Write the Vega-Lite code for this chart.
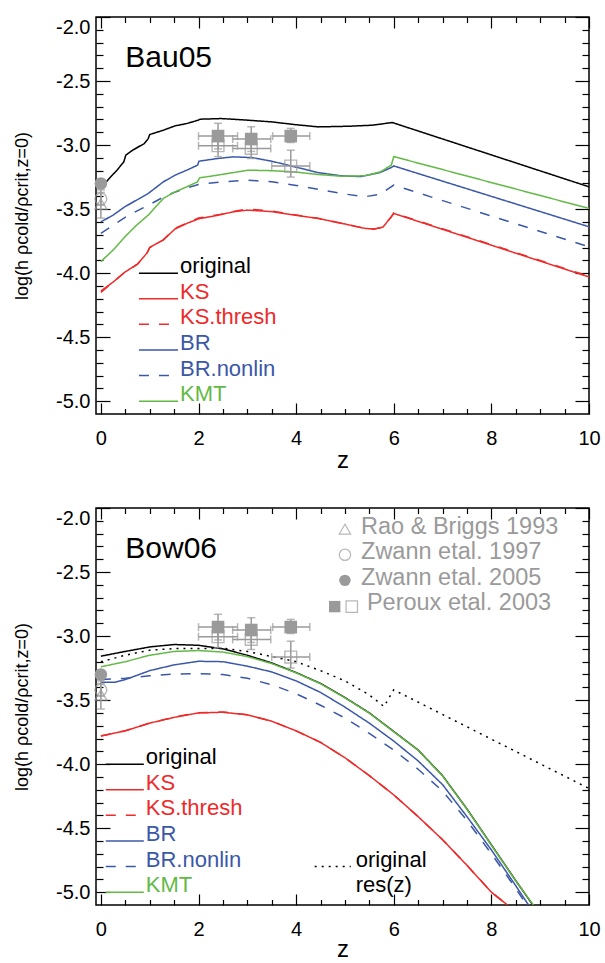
{
  "$schema": "https://vega.github.io/schema/vega-lite/v6.json",
  "padding": {"left": 12, "top": 15, "right": 0, "bottom": 0},
  "spacing": 32,
  "config": {
    "view": {"stroke": "black", "strokeWidth": 1.5},
    "font": "Liberation Sans",
    "axis": {
      "domain": false, "grid": false, "tickColor": "black", "tickWidth": 1.2,
      "labelColor": "black", "labelFont": "Liberation Sans", "labelFontSize": 20,
      "titleFont": "Liberation Sans", "titleFontWeight": "normal", "titleColor": "black",
      "labelOverlap": false
    },
    "text": {"font": "Liberation Sans"}
  },
  "datasets": {
    "curves": [
      {"p":"Bau05","s":"original","z":0,"v":-3.339},{"p":"Bau05","s":"original","z":0.17,"v":-3.261},{"p":"Bau05","s":"original","z":0.33,"v":-3.196},{"p":"Bau05","s":"original","z":0.47,"v":-3.131},{"p":"Bau05","s":"original","z":0.51,"v":-3.079},{"p":"Bau05","s":"original","z":0.65,"v":-3.04},{"p":"Bau05","s":"original","z":0.89,"v":-2.988},{"p":"Bau05","s":"original","z":0.97,"v":-2.95},{"p":"Bau05","s":"original","z":1.0,"v":-2.918},{"p":"Bau05","s":"original","z":1.28,"v":-2.884},{"p":"Bau05","s":"original","z":1.52,"v":-2.85},{"p":"Bau05","s":"original","z":1.76,"v":-2.832},{"p":"Bau05","s":"original","z":1.99,"v":-2.806},{"p":"Bau05","s":"original","z":2.03,"v":-2.798},{"p":"Bau05","s":"original","z":2.47,"v":-2.793},{"p":"Bau05","s":"original","z":3.02,"v":-2.806},{"p":"Bau05","s":"original","z":3.5,"v":-2.819},{"p":"Bau05","s":"original","z":3.97,"v":-2.84},{"p":"Bau05","s":"original","z":4.45,"v":-2.858},{"p":"Bau05","s":"original","z":5.08,"v":-2.853},{"p":"Bau05","s":"original","z":5.56,"v":-2.845},{"p":"Bau05","s":"original","z":5.97,"v":-2.824},{"p":"Bau05","s":"original","z":10,"v":-3.326},
      {"p":"Bau05","s":"KS","z":0,"v":-4.14},{"p":"Bau05","s":"KS","z":0.25,"v":-4.07},{"p":"Bau05","s":"KS","z":0.5,"v":-3.99},{"p":"Bau05","s":"KS","z":0.75,"v":-3.93},{"p":"Bau05","s":"KS","z":0.95,"v":-3.84},{"p":"Bau05","s":"KS","z":1.0,"v":-3.8},{"p":"Bau05","s":"KS","z":1.28,"v":-3.74},{"p":"Bau05","s":"KS","z":1.52,"v":-3.655},{"p":"Bau05","s":"KS","z":1.76,"v":-3.612},{"p":"Bau05","s":"KS","z":2.0,"v":-3.576},{"p":"Bau05","s":"KS","z":2.4,"v":-3.548},{"p":"Bau05","s":"KS","z":2.7,"v":-3.522},{"p":"Bau05","s":"KS","z":3.0,"v":-3.508},{"p":"Bau05","s":"KS","z":3.5,"v":-3.52},{"p":"Bau05","s":"KS","z":3.97,"v":-3.547},{"p":"Bau05","s":"KS","z":4.45,"v":-3.573},{"p":"Bau05","s":"KS","z":4.92,"v":-3.61},{"p":"Bau05","s":"KS","z":5.4,"v":-3.65},{"p":"Bau05","s":"KS","z":5.6,"v":-3.657},{"p":"Bau05","s":"KS","z":5.78,"v":-3.64},{"p":"Bau05","s":"KS","z":5.95,"v":-3.56},{"p":"Bau05","s":"KS","z":6.0,"v":-3.534},{"p":"Bau05","s":"KS","z":10,"v":-4.03},
      {"p":"Bau05","s":"KS.thresh","z":0,"v":-4.15},{"p":"Bau05","s":"KS.thresh","z":0.25,"v":-4.07},{"p":"Bau05","s":"KS.thresh","z":0.5,"v":-3.99},{"p":"Bau05","s":"KS.thresh","z":0.75,"v":-3.93},{"p":"Bau05","s":"KS.thresh","z":0.95,"v":-3.84},{"p":"Bau05","s":"KS.thresh","z":1.0,"v":-3.8},{"p":"Bau05","s":"KS.thresh","z":1.28,"v":-3.74},{"p":"Bau05","s":"KS.thresh","z":1.52,"v":-3.65},{"p":"Bau05","s":"KS.thresh","z":1.76,"v":-3.61},{"p":"Bau05","s":"KS.thresh","z":2.0,"v":-3.57},{"p":"Bau05","s":"KS.thresh","z":2.4,"v":-3.545},{"p":"Bau05","s":"KS.thresh","z":2.7,"v":-3.52},{"p":"Bau05","s":"KS.thresh","z":3.0,"v":-3.5},{"p":"Bau05","s":"KS.thresh","z":3.5,"v":-3.515},{"p":"Bau05","s":"KS.thresh","z":3.97,"v":-3.545},{"p":"Bau05","s":"KS.thresh","z":4.45,"v":-3.572},{"p":"Bau05","s":"KS.thresh","z":4.92,"v":-3.61},{"p":"Bau05","s":"KS.thresh","z":5.4,"v":-3.65},{"p":"Bau05","s":"KS.thresh","z":5.6,"v":-3.655},{"p":"Bau05","s":"KS.thresh","z":5.78,"v":-3.64},{"p":"Bau05","s":"KS.thresh","z":5.95,"v":-3.56},{"p":"Bau05","s":"KS.thresh","z":6.0,"v":-3.53},{"p":"Bau05","s":"KS.thresh","z":10,"v":-4.025},
      {"p":"Bau05","s":"BR","z":0,"v":-3.6},{"p":"Bau05","s":"BR","z":0.25,"v":-3.547},{"p":"Bau05","s":"BR","z":0.49,"v":-3.482},{"p":"Bau05","s":"BR","z":0.73,"v":-3.43},{"p":"Bau05","s":"BR","z":0.97,"v":-3.378},{"p":"Bau05","s":"BR","z":1.28,"v":-3.287},{"p":"Bau05","s":"BR","z":1.52,"v":-3.235},{"p":"Bau05","s":"BR","z":1.76,"v":-3.196},{"p":"Bau05","s":"BR","z":1.98,"v":-3.157},{"p":"Bau05","s":"BR","z":2.01,"v":-3.126},{"p":"Bau05","s":"BR","z":2.39,"v":-3.105},{"p":"Bau05","s":"BR","z":2.71,"v":-3.092},{"p":"Bau05","s":"BR","z":3.1,"v":-3.098},{"p":"Bau05","s":"BR","z":3.5,"v":-3.126},{"p":"Bau05","s":"BR","z":3.97,"v":-3.17},{"p":"Bau05","s":"BR","z":4.45,"v":-3.215},{"p":"Bau05","s":"BR","z":4.92,"v":-3.24},{"p":"Bau05","s":"BR","z":5.32,"v":-3.246},{"p":"Bau05","s":"BR","z":5.72,"v":-3.215},{"p":"Bau05","s":"BR","z":5.95,"v":-3.175},{"p":"Bau05","s":"BR","z":6.0,"v":-3.163},{"p":"Bau05","s":"BR","z":10,"v":-3.638},
      {"p":"Bau05","s":"BR.nonlin","z":0,"v":-3.69},{"p":"Bau05","s":"BR.nonlin","z":0.25,"v":-3.625},{"p":"Bau05","s":"BR.nonlin","z":0.57,"v":-3.547},{"p":"Bau05","s":"BR.nonlin","z":0.97,"v":-3.47},{"p":"Bau05","s":"BR.nonlin","z":1.36,"v":-3.39},{"p":"Bau05","s":"BR.nonlin","z":1.76,"v":-3.334},{"p":"Bau05","s":"BR.nonlin","z":2.0,"v":-3.308},{"p":"Bau05","s":"BR.nonlin","z":2.47,"v":-3.287},{"p":"Bau05","s":"BR.nonlin","z":3.02,"v":-3.274},{"p":"Bau05","s":"BR.nonlin","z":3.5,"v":-3.287},{"p":"Bau05","s":"BR.nonlin","z":3.97,"v":-3.313},{"p":"Bau05","s":"BR.nonlin","z":4.45,"v":-3.345},{"p":"Bau05","s":"BR.nonlin","z":4.92,"v":-3.378},{"p":"Bau05","s":"BR.nonlin","z":5.4,"v":-3.404},{"p":"Bau05","s":"BR.nonlin","z":5.72,"v":-3.385},{"p":"Bau05","s":"BR.nonlin","z":6.0,"v":-3.313},{"p":"Bau05","s":"BR.nonlin","z":10,"v":-3.795},
      {"p":"Bau05","s":"KMT","z":0,"v":-3.91},{"p":"Bau05","s":"KMT","z":0.25,"v":-3.82},{"p":"Bau05","s":"KMT","z":0.49,"v":-3.717},{"p":"Bau05","s":"KMT","z":0.73,"v":-3.626},{"p":"Bau05","s":"KMT","z":0.97,"v":-3.547},{"p":"Bau05","s":"KMT","z":1.28,"v":-3.417},{"p":"Bau05","s":"KMT","z":1.52,"v":-3.365},{"p":"Bau05","s":"KMT","z":1.76,"v":-3.326},{"p":"Bau05","s":"KMT","z":1.98,"v":-3.287},{"p":"Bau05","s":"KMT","z":2.02,"v":-3.256},{"p":"Bau05","s":"KMT","z":2.39,"v":-3.235},{"p":"Bau05","s":"KMT","z":3.02,"v":-3.196},{"p":"Bau05","s":"KMT","z":3.5,"v":-3.2},{"p":"Bau05","s":"KMT","z":3.97,"v":-3.21},{"p":"Bau05","s":"KMT","z":4.45,"v":-3.23},{"p":"Bau05","s":"KMT","z":4.92,"v":-3.243},{"p":"Bau05","s":"KMT","z":5.4,"v":-3.24},{"p":"Bau05","s":"KMT","z":5.72,"v":-3.21},{"p":"Bau05","s":"KMT","z":5.95,"v":-3.157},{"p":"Bau05","s":"KMT","z":6.0,"v":-3.09},{"p":"Bau05","s":"KMT","z":10,"v":-3.495},
      {"p":"Bow06","s":"original","z":0,"v":-3.157},{"p":"Bow06","s":"original","z":0.5,"v":-3.12},{"p":"Bow06","s":"original","z":1.0,"v":-3.085},{"p":"Bow06","s":"original","z":1.5,"v":-3.066},{"p":"Bow06","s":"original","z":2.0,"v":-3.072},{"p":"Bow06","s":"original","z":2.5,"v":-3.1},{"p":"Bow06","s":"original","z":3.0,"v":-3.15},{"p":"Bow06","s":"original","z":3.5,"v":-3.21},{"p":"Bow06","s":"original","z":4.0,"v":-3.285},{"p":"Bow06","s":"original","z":4.5,"v":-3.37},{"p":"Bow06","s":"original","z":5.0,"v":-3.48},{"p":"Bow06","s":"original","z":5.5,"v":-3.6},{"p":"Bow06","s":"original","z":6.0,"v":-3.745},{"p":"Bow06","s":"original","z":6.5,"v":-3.89},{"p":"Bow06","s":"original","z":7.0,"v":-4.09},{"p":"Bow06","s":"original","z":7.5,"v":-4.35},{"p":"Bow06","s":"original","z":8.0,"v":-4.63},{"p":"Bow06","s":"original","z":8.5,"v":-4.91},{"p":"Bow06","s":"original","z":8.85,"v":-5.1},
      {"p":"Bow06","s":"KS","z":0,"v":-3.78},{"p":"Bow06","s":"KS","z":0.5,"v":-3.74},{"p":"Bow06","s":"KS","z":1.0,"v":-3.68},{"p":"Bow06","s":"KS","z":1.5,"v":-3.635},{"p":"Bow06","s":"KS","z":2.0,"v":-3.6},{"p":"Bow06","s":"KS","z":2.5,"v":-3.595},{"p":"Bow06","s":"KS","z":3.0,"v":-3.615},{"p":"Bow06","s":"KS","z":3.5,"v":-3.665},{"p":"Bow06","s":"KS","z":4.0,"v":-3.74},{"p":"Bow06","s":"KS","z":4.5,"v":-3.83},{"p":"Bow06","s":"KS","z":5.0,"v":-3.95},{"p":"Bow06","s":"KS","z":5.5,"v":-4.09},{"p":"Bow06","s":"KS","z":6.0,"v":-4.24},{"p":"Bow06","s":"KS","z":6.5,"v":-4.41},{"p":"Bow06","s":"KS","z":7.0,"v":-4.59},{"p":"Bow06","s":"KS","z":7.5,"v":-4.79},{"p":"Bow06","s":"KS","z":8.0,"v":-5.0},{"p":"Bow06","s":"KS","z":8.33,"v":-5.1},
      {"p":"Bow06","s":"KS.thresh","z":0,"v":-3.78},{"p":"Bow06","s":"KS.thresh","z":0.5,"v":-3.74},{"p":"Bow06","s":"KS.thresh","z":1.0,"v":-3.68},{"p":"Bow06","s":"KS.thresh","z":1.5,"v":-3.633},{"p":"Bow06","s":"KS.thresh","z":2.0,"v":-3.598},{"p":"Bow06","s":"KS.thresh","z":2.5,"v":-3.593},{"p":"Bow06","s":"KS.thresh","z":3.0,"v":-3.615},{"p":"Bow06","s":"KS.thresh","z":3.5,"v":-3.665},{"p":"Bow06","s":"KS.thresh","z":4.0,"v":-3.74},{"p":"Bow06","s":"KS.thresh","z":4.5,"v":-3.83},{"p":"Bow06","s":"KS.thresh","z":5.0,"v":-3.95},{"p":"Bow06","s":"KS.thresh","z":5.5,"v":-4.09},{"p":"Bow06","s":"KS.thresh","z":6.0,"v":-4.24},{"p":"Bow06","s":"KS.thresh","z":6.5,"v":-4.41},{"p":"Bow06","s":"KS.thresh","z":7.0,"v":-4.59},{"p":"Bow06","s":"KS.thresh","z":7.5,"v":-4.79},{"p":"Bow06","s":"KS.thresh","z":8.0,"v":-5.0},{"p":"Bow06","s":"KS.thresh","z":8.33,"v":-5.1},
      {"p":"Bow06","s":"BR","z":0,"v":-3.36},{"p":"Bow06","s":"BR","z":0.3,"v":-3.36},{"p":"Bow06","s":"BR","z":0.5,"v":-3.34},{"p":"Bow06","s":"BR","z":1.0,"v":-3.27},{"p":"Bow06","s":"BR","z":1.5,"v":-3.225},{"p":"Bow06","s":"BR","z":2.0,"v":-3.197},{"p":"Bow06","s":"BR","z":2.5,"v":-3.2},{"p":"Bow06","s":"BR","z":3.0,"v":-3.235},{"p":"Bow06","s":"BR","z":3.5,"v":-3.28},{"p":"Bow06","s":"BR","z":4.0,"v":-3.35},{"p":"Bow06","s":"BR","z":4.5,"v":-3.44},{"p":"Bow06","s":"BR","z":5.0,"v":-3.555},{"p":"Bow06","s":"BR","z":5.5,"v":-3.68},{"p":"Bow06","s":"BR","z":6.0,"v":-3.82},{"p":"Bow06","s":"BR","z":6.5,"v":-3.975},{"p":"Bow06","s":"BR","z":7.0,"v":-4.16},{"p":"Bow06","s":"BR","z":7.5,"v":-4.41},{"p":"Bow06","s":"BR","z":8.0,"v":-4.67},{"p":"Bow06","s":"BR","z":8.5,"v":-4.95},{"p":"Bow06","s":"BR","z":8.76,"v":-5.1},
      {"p":"Bow06","s":"BR.nonlin","z":0,"v":-3.34},{"p":"Bow06","s":"BR.nonlin","z":0.5,"v":-3.33},{"p":"Bow06","s":"BR.nonlin","z":1.0,"v":-3.31},{"p":"Bow06","s":"BR.nonlin","z":1.5,"v":-3.297},{"p":"Bow06","s":"BR.nonlin","z":2.0,"v":-3.293},{"p":"Bow06","s":"BR.nonlin","z":2.5,"v":-3.3},{"p":"Bow06","s":"BR.nonlin","z":3.0,"v":-3.33},{"p":"Bow06","s":"BR.nonlin","z":3.5,"v":-3.38},{"p":"Bow06","s":"BR.nonlin","z":4.0,"v":-3.45},{"p":"Bow06","s":"BR.nonlin","z":4.5,"v":-3.54},{"p":"Bow06","s":"BR.nonlin","z":5.0,"v":-3.64},{"p":"Bow06","s":"BR.nonlin","z":5.5,"v":-3.76},{"p":"Bow06","s":"BR.nonlin","z":6.0,"v":-3.89},{"p":"Bow06","s":"BR.nonlin","z":6.5,"v":-4.04},{"p":"Bow06","s":"BR.nonlin","z":7.0,"v":-4.21},{"p":"Bow06","s":"BR.nonlin","z":7.5,"v":-4.44},{"p":"Bow06","s":"BR.nonlin","z":8.0,"v":-4.7},{"p":"Bow06","s":"BR.nonlin","z":8.5,"v":-4.97},{"p":"Bow06","s":"BR.nonlin","z":8.72,"v":-5.1},
      {"p":"Bow06","s":"KMT","z":0,"v":-3.24},{"p":"Bow06","s":"KMT","z":0.5,"v":-3.2},{"p":"Bow06","s":"KMT","z":1.0,"v":-3.15},{"p":"Bow06","s":"KMT","z":1.5,"v":-3.12},{"p":"Bow06","s":"KMT","z":2.0,"v":-3.113},{"p":"Bow06","s":"KMT","z":2.5,"v":-3.125},{"p":"Bow06","s":"KMT","z":3.0,"v":-3.16},{"p":"Bow06","s":"KMT","z":3.5,"v":-3.215},{"p":"Bow06","s":"KMT","z":4.0,"v":-3.287},{"p":"Bow06","s":"KMT","z":4.5,"v":-3.372},{"p":"Bow06","s":"KMT","z":5.0,"v":-3.482},{"p":"Bow06","s":"KMT","z":5.5,"v":-3.602},{"p":"Bow06","s":"KMT","z":6.0,"v":-3.747},{"p":"Bow06","s":"KMT","z":6.5,"v":-3.892},{"p":"Bow06","s":"KMT","z":7.0,"v":-4.092},{"p":"Bow06","s":"KMT","z":7.5,"v":-4.352},{"p":"Bow06","s":"KMT","z":8.0,"v":-4.632},{"p":"Bow06","s":"KMT","z":8.5,"v":-4.912},{"p":"Bow06","s":"KMT","z":8.86,"v":-5.1},
      {"p":"Bow06","s":"res","z":0,"v":-3.2},{"p":"Bow06","s":"res","z":0.5,"v":-3.15},{"p":"Bow06","s":"res","z":1.0,"v":-3.11},{"p":"Bow06","s":"res","z":1.5,"v":-3.098},{"p":"Bow06","s":"res","z":2.0,"v":-3.098},{"p":"Bow06","s":"res","z":2.5,"v":-3.095},{"p":"Bow06","s":"res","z":3.0,"v":-3.12},{"p":"Bow06","s":"res","z":3.5,"v":-3.16},{"p":"Bow06","s":"res","z":4.0,"v":-3.2},{"p":"Bow06","s":"res","z":4.5,"v":-3.27},{"p":"Bow06","s":"res","z":5.0,"v":-3.35},{"p":"Bow06","s":"res","z":5.5,"v":-3.46},{"p":"Bow06","s":"res","z":5.8,"v":-3.55},{"p":"Bow06","s":"res","z":6.0,"v":-3.42},{"p":"Bow06","s":"res","z":10,"v":-4.19}
    ],
    "keys": [
      {"p":"Bau05","s":"original","z":0.78,"v":-4.0},{"p":"Bau05","s":"original","z":1.58,"v":-4.0},
      {"p":"Bau05","s":"KS","z":0.78,"v":-4.2},{"p":"Bau05","s":"KS","z":1.58,"v":-4.2},
      {"p":"Bau05","s":"KS.thresh","z":0.78,"v":-4.4},{"p":"Bau05","s":"KS.thresh","z":1.58,"v":-4.4},
      {"p":"Bau05","s":"BR","z":0.78,"v":-4.6},{"p":"Bau05","s":"BR","z":1.58,"v":-4.6},
      {"p":"Bau05","s":"BR.nonlin","z":0.78,"v":-4.8},{"p":"Bau05","s":"BR.nonlin","z":1.58,"v":-4.8},
      {"p":"Bau05","s":"KMT","z":0.78,"v":-5.0},{"p":"Bau05","s":"KMT","z":1.58,"v":-5.0},
      {"p":"Bow06","s":"original","z":0.1,"v":-4.0},{"p":"Bow06","s":"original","z":0.88,"v":-4.0},
      {"p":"Bow06","s":"KS","z":0.1,"v":-4.2},{"p":"Bow06","s":"KS","z":0.88,"v":-4.2},
      {"p":"Bow06","s":"KS.thresh","z":0.1,"v":-4.4},{"p":"Bow06","s":"KS.thresh","z":0.88,"v":-4.4},
      {"p":"Bow06","s":"BR","z":0.1,"v":-4.6},{"p":"Bow06","s":"BR","z":0.88,"v":-4.6},
      {"p":"Bow06","s":"BR.nonlin","z":0.1,"v":-4.8},{"p":"Bow06","s":"BR.nonlin","z":0.88,"v":-4.8},
      {"p":"Bow06","s":"KMT","z":0.1,"v":-5.0},{"p":"Bow06","s":"KMT","z":0.88,"v":-5.0},
      {"p":"Bow06","s":"res","z":4.38,"v":-4.8},{"p":"Bow06","s":"res","z":5.12,"v":-4.8}
    ],
    "keytext": [
      {"p":"Bau05","s":"original","label":"original","z":1.62,"v":-4.0},
      {"p":"Bau05","s":"KS","label":"KS","z":1.62,"v":-4.2},
      {"p":"Bau05","s":"KS.thresh","label":"KS.thresh","z":1.62,"v":-4.4},
      {"p":"Bau05","s":"BR","label":"BR","z":1.62,"v":-4.6},
      {"p":"Bau05","s":"BR.nonlin","label":"BR.nonlin","z":1.62,"v":-4.8},
      {"p":"Bau05","s":"KMT","label":"KMT","z":1.62,"v":-5.0},
      {"p":"Bow06","s":"original","label":"original","z":0.92,"v":-4.0},
      {"p":"Bow06","s":"KS","label":"KS","z":0.92,"v":-4.2},
      {"p":"Bow06","s":"KS.thresh","label":"KS.thresh","z":0.92,"v":-4.4},
      {"p":"Bow06","s":"BR","label":"BR","z":0.92,"v":-4.6},
      {"p":"Bow06","s":"BR.nonlin","label":"BR.nonlin","z":0.92,"v":-4.8},
      {"p":"Bow06","s":"KMT","label":"KMT","z":0.92,"v":-5.0},
      {"p":"Bow06","s":"res","label":"original","z":5.22,"v":-4.8},
      {"p":"Bow06","s":"res","label":"res(z)","z":5.22,"v":-5.0}
    ],
    "labels": [
      {"p":"Bau05","label":"Bau05","z":0.5,"v":-2.39},
      {"p":"Bow06","label":"Bow06","z":0.5,"v":-2.39},
      {"p":"Bow06","label":"Rao & Briggs 1993","z":5.33,"v":-2.2,"grey":true},
      {"p":"Bow06","label":"Zwann etal. 1997","z":5.33,"v":-2.4,"grey":true},
      {"p":"Bow06","label":"Zwann etal. 2005","z":5.33,"v":-2.6,"grey":true},
      {"p":"Bow06","label":"Peroux etal. 2003","z":5.45,"v":-2.8,"grey":true}
    ],
    "obs": [
      {"kind":"Rao","z":0,"v":-3.46,"lo":-3.57,"hi":-3.35},
      {"kind":"Zw97","z":0,"v":-3.42,"lo":-3.47,"hi":-3.37},
      {"kind":"Zw05","z":0,"v":-3.3,"lo":-3.33,"hi":-3.27},
      {"kind":"PerF","z":2.4,"v":-2.93,"lo":-3.03,"hi":-2.83,"zlo":2.0,"zhi":2.8},
      {"kind":"PerF","z":3.08,"v":-2.953,"lo":-3.05,"hi":-2.857,"zlo":2.7,"zhi":3.48},
      {"kind":"PerF","z":3.89,"v":-2.93,"lo":-2.98,"hi":-2.87,"zlo":3.52,"zhi":4.28},
      {"kind":"PerO","z":2.4,"v":-3.005,"lo":-3.09,"hi":-2.92,"zlo":2.0,"zhi":2.8},
      {"kind":"PerO","z":3.08,"v":-3.026,"lo":-3.105,"hi":-2.94,"zlo":2.7,"zhi":3.48},
      {"kind":"PerO","z":3.89,"v":-3.164,"lo":-3.25,"hi":-3.04,"zlo":3.5,"zhi":4.28}
    ],
    "symkey": [
      {"p":"Bow06","kind":"Rao","z":5.0,"v":-2.165},
      {"p":"Bow06","kind":"Zw97","z":5.0,"v":-2.365},
      {"p":"Bow06","kind":"Zw05","z":5.0,"v":-2.565},
      {"p":"Bow06","kind":"PerF","z":4.79,"v":-2.77},
      {"p":"Bow06","kind":"PerO","z":5.14,"v":-2.77}
    ]
  },
  "vconcat": [
    {
      "width": 493, "height": 397,
      "resolve": {"axis": {"x": "independent", "y": "independent"}},
      "layer": [
        {
          "data": {"name": "curves"},
          "transform": [{"filter": "datum.p == 'Bau05'"}],
          "mark": {"type": "line", "strokeWidth": 1.5, "clip": true},
          "encoding": {
            "x": {"field": "z", "type": "quantitative", "scale": {"domain": [-0.1, 10], "nice": false, "zero": false},
              "axis": {"orient": "bottom", "values": [0,0.5,1,1.5,2,2.5,3,3.5,4,4.5,5,5.5,6,6.5,7,7.5,8,8.5,9,9.5,10],
                "tickSize": {"condition": {"test": "abs(datum.value/2-round(datum.value/2))<0.001", "value": -11}, "value": -5.5},
                "labelExpr": "abs(datum.value/2-round(datum.value/2))<0.001 ? format(datum.value,'d') : ''",
                "labelPadding": 25, "labelFlush": false, "title": "z", "titleFontSize": 24, "titlePadding": -5}},
            "y": {"field": "v", "type": "quantitative", "scale": {"domain": [-5.1, -2.0], "nice": false, "zero": false},
              "axis": {"orient": "left", "values": [-5,-4.9,-4.8,-4.7,-4.6,-4.5,-4.4,-4.3,-4.2,-4.1,-4,-3.9,-3.8,-3.7,-3.6,-3.5,-3.4,-3.3,-3.2,-3.1,-3,-2.9,-2.8,-2.7,-2.6,-2.5,-2.4,-2.3,-2.2,-2.1,-2],
                "tickSize": {"condition": {"test": "abs(datum.value*2-round(datum.value*2))<0.001", "value": -14}, "value": -7},
                "labelExpr": "abs(datum.value*2-round(datum.value*2))<0.001 ? '-' + format(abs(datum.value),'.1f') : ''",
                "labelPadding": 20, "labelFlush": true, "title": "log(h ρcold/ρcrit,z=0)", "titleFontSize": 18, "titlePadding": 24}},
            "color": {"field": "s", "type": "nominal", "legend": null,
              "scale": {"domain": ["original","KS","KS.thresh","BR","BR.nonlin","KMT","res"], "range": ["#000000","#ee2a2a","#ee2a2a","#3b58a8","#3b58a8","#63b946","#000000"]}},
            "strokeDash": {"field": "s", "type": "nominal", "legend": null,
              "scale": {"domain": ["original","KS","KS.thresh","BR","BR.nonlin","KMT","res"], "range": [[1,0],[1,0],[10,10],[1,0],[10,10],[1,0],[2,5]]}}
          }
        },
        {
          "data": {"name": "keys"},
          "transform": [{"filter": "datum.p == 'Bau05'"}],
          "mark": {"type": "line", "strokeWidth": 1.5},
          "encoding": {
            "x": {"field": "z", "type": "quantitative", "axis": null},
            "y": {"field": "v", "type": "quantitative", "axis": null},
            "color": {"field": "s", "type": "nominal", "legend": null},
            "strokeDash": {"field": "s", "type": "nominal", "legend": null}
          }
        },
        {
          "data": {"name": "keytext"},
          "transform": [{"filter": "datum.p == 'Bau05'"}],
          "mark": {"type": "text", "align": "left", "baseline": "alphabetic", "fontSize": 22},
          "encoding": {
            "x": {"field": "z", "type": "quantitative", "axis": null},
            "y": {"field": "v", "type": "quantitative", "axis": null},
            "text": {"field": "label"},
            "color": {"field": "s", "type": "nominal", "legend": null}
          }
        },
        {
          "data": {"name": "labels"},
          "transform": [{"filter": "datum.p == 'Bau05'"}],
          "mark": {"type": "text", "align": "left", "baseline": "alphabetic", "fontSize": 30, "color": "black"},
          "encoding": {
            "x": {"field": "z", "type": "quantitative",
              "axis": {"orient": "top", "values": [0,0.5,1,1.5,2,2.5,3,3.5,4,4.5,5,5.5,6,6.5,7,7.5,8,8.5,9,9.5,10],
                "tickSize": {"condition": {"test": "abs(datum.value/2-round(datum.value/2))<0.001", "value": -11}, "value": -5.5},
                "labels": false, "title": null}},
            "y": {"field": "v", "type": "quantitative",
              "axis": {"orient": "right", "values": [-5,-4.9,-4.8,-4.7,-4.6,-4.5,-4.4,-4.3,-4.2,-4.1,-4,-3.9,-3.8,-3.7,-3.6,-3.5,-3.4,-3.3,-3.2,-3.1,-3,-2.9,-2.8,-2.7,-2.6,-2.5,-2.4,-2.3,-2.2,-2.1,-2],
                "tickSize": {"condition": {"test": "abs(datum.value*2-round(datum.value*2))<0.001", "value": -14}, "value": -7},
                "labels": false, "title": null}},
            "text": {"field": "label"}
          }
        },
        {
          "data": {"name": "obs"},
          "mark": {"type": "errorbar", "color": "#9a9a9a", "thickness": 1.5, "ticks": {"size": 8, "color": "#9a9a9a"}},
          "encoding": {
            "x": {"field": "z", "type": "quantitative", "axis": null},
            "y": {"field": "lo", "type": "quantitative", "axis": null},
            "y2": {"field": "hi"}
          }
        },
        {
          "data": {"name": "obs"},
          "transform": [{"filter": "isValid(datum.zlo)"}],
          "mark": {"type": "errorbar", "color": "#9a9a9a", "thickness": 1.5, "ticks": {"size": 8, "color": "#9a9a9a"}},
          "encoding": {
            "y": {"field": "v", "type": "quantitative", "axis": null},
            "x": {"field": "zlo", "type": "quantitative", "axis": null},
            "x2": {"field": "zhi"}
          }
        },
        {
          "data": {"name": "obs"},
          "transform": [{"filter": "datum.kind == 'Rao' || datum.kind == 'Zw97' || datum.kind == 'PerO'"}],
          "mark": {"type": "point", "filled": false, "color": "#9a9a9a", "strokeWidth": 1.4, "size": 140},
          "encoding": {
            "x": {"field": "z", "type": "quantitative", "axis": null},
            "y": {"field": "v", "type": "quantitative", "axis": null},
            "shape": {"field": "kind", "type": "nominal", "legend": null,
              "scale": {"domain": ["Rao","Zw97","Zw05","PerF","PerO"], "range": ["triangle-up","circle","circle","square","square"]}}
          }
        },
        {
          "data": {"name": "obs"},
          "transform": [{"filter": "datum.kind == 'Zw05' || datum.kind == 'PerF'"}],
          "mark": {"type": "point", "filled": true, "color": "#9a9a9a", "opacity": 1, "size": 160},
          "encoding": {
            "x": {"field": "z", "type": "quantitative", "axis": null},
            "y": {"field": "v", "type": "quantitative", "axis": null},
            "shape": {"field": "kind", "type": "nominal", "legend": null}
          }
        }
      ]
    },
    {
      "width": 493, "height": 397,
      "resolve": {"axis": {"x": "independent", "y": "independent"}},
      "layer": [
        {
          "data": {"name": "curves"},
          "transform": [{"filter": "datum.p == 'Bow06'"}],
          "mark": {"type": "line", "strokeWidth": 1.5, "clip": true},
          "encoding": {
            "x": {"field": "z", "type": "quantitative", "scale": {"domain": [-0.1, 10], "nice": false, "zero": false},
              "axis": {"orient": "bottom", "values": [0,0.5,1,1.5,2,2.5,3,3.5,4,4.5,5,5.5,6,6.5,7,7.5,8,8.5,9,9.5,10],
                "tickSize": {"condition": {"test": "abs(datum.value/2-round(datum.value/2))<0.001", "value": -11}, "value": -5.5},
                "labelExpr": "abs(datum.value/2-round(datum.value/2))<0.001 ? format(datum.value,'d') : ''",
                "labelPadding": 25, "labelFlush": false, "title": "z", "titleFontSize": 24, "titlePadding": -7}},
            "y": {"field": "v", "type": "quantitative", "scale": {"domain": [-5.1, -2.0], "nice": false, "zero": false},
              "axis": {"orient": "left", "values": [-5,-4.9,-4.8,-4.7,-4.6,-4.5,-4.4,-4.3,-4.2,-4.1,-4,-3.9,-3.8,-3.7,-3.6,-3.5,-3.4,-3.3,-3.2,-3.1,-3,-2.9,-2.8,-2.7,-2.6,-2.5,-2.4,-2.3,-2.2,-2.1,-2],
                "tickSize": {"condition": {"test": "abs(datum.value*2-round(datum.value*2))<0.001", "value": -14}, "value": -7},
                "labelExpr": "abs(datum.value*2-round(datum.value*2))<0.001 ? '-' + format(abs(datum.value),'.1f') : ''",
                "labelPadding": 20, "labelFlush": true, "title": "log(h ρcold/ρcrit,z=0)", "titleFontSize": 18, "titlePadding": 24}},
            "color": {"field": "s", "type": "nominal", "legend": null,
              "scale": {"domain": ["original","KS","KS.thresh","BR","BR.nonlin","KMT","res"], "range": ["#000000","#ee2a2a","#ee2a2a","#3b58a8","#3b58a8","#63b946","#000000"]}},
            "strokeDash": {"field": "s", "type": "nominal", "legend": null,
              "scale": {"domain": ["original","KS","KS.thresh","BR","BR.nonlin","KMT","res"], "range": [[1,0],[1,0],[10,10],[1,0],[10,10],[1,0],[2,5]]}}
          }
        },
        {
          "data": {"name": "keys"},
          "transform": [{"filter": "datum.p == 'Bow06'"}],
          "mark": {"type": "line", "strokeWidth": 1.5},
          "encoding": {
            "x": {"field": "z", "type": "quantitative", "axis": null},
            "y": {"field": "v", "type": "quantitative", "axis": null},
            "color": {"field": "s", "type": "nominal", "legend": null},
            "strokeDash": {"field": "s", "type": "nominal", "legend": null}
          }
        },
        {
          "data": {"name": "keytext"},
          "transform": [{"filter": "datum.p == 'Bow06'"}],
          "mark": {"type": "text", "align": "left", "baseline": "alphabetic", "fontSize": 22},
          "encoding": {
            "x": {"field": "z", "type": "quantitative", "axis": null},
            "y": {"field": "v", "type": "quantitative", "axis": null},
            "text": {"field": "label"},
            "color": {"field": "s", "type": "nominal", "legend": null}
          }
        },
        {
          "data": {"name": "labels"},
          "transform": [{"filter": "datum.p == 'Bow06' && !datum.grey"}],
          "mark": {"type": "text", "align": "left", "baseline": "alphabetic", "fontSize": 30, "color": "black"},
          "encoding": {
            "x": {"field": "z", "type": "quantitative",
              "axis": {"orient": "top", "values": [0,0.5,1,1.5,2,2.5,3,3.5,4,4.5,5,5.5,6,6.5,7,7.5,8,8.5,9,9.5,10],
                "tickSize": {"condition": {"test": "abs(datum.value/2-round(datum.value/2))<0.001", "value": -11}, "value": -5.5},
                "labels": false, "title": null}},
            "y": {"field": "v", "type": "quantitative",
              "axis": {"orient": "right", "values": [-5,-4.9,-4.8,-4.7,-4.6,-4.5,-4.4,-4.3,-4.2,-4.1,-4,-3.9,-3.8,-3.7,-3.6,-3.5,-3.4,-3.3,-3.2,-3.1,-3,-2.9,-2.8,-2.7,-2.6,-2.5,-2.4,-2.3,-2.2,-2.1,-2],
                "tickSize": {"condition": {"test": "abs(datum.value*2-round(datum.value*2))<0.001", "value": -14}, "value": -7},
                "labels": false, "title": null}},
            "text": {"field": "label"}
          }
        },
        {
          "data": {"name": "labels"},
          "transform": [{"filter": "datum.p == 'Bow06' && datum.grey"}],
          "mark": {"type": "text", "align": "left", "baseline": "alphabetic", "fontSize": 23.5, "color": "#9a9a9a"},
          "encoding": {
            "x": {"field": "z", "type": "quantitative", "axis": null},
            "y": {"field": "v", "type": "quantitative", "axis": null},
            "text": {"field": "label"}
          }
        },
        {
          "data": {"name": "obs"},
          "mark": {"type": "errorbar", "color": "#9a9a9a", "thickness": 1.5, "ticks": {"size": 8, "color": "#9a9a9a"}},
          "encoding": {
            "x": {"field": "z", "type": "quantitative", "axis": null},
            "y": {"field": "lo", "type": "quantitative", "axis": null},
            "y2": {"field": "hi"}
          }
        },
        {
          "data": {"name": "obs"},
          "transform": [{"filter": "isValid(datum.zlo)"}],
          "mark": {"type": "errorbar", "color": "#9a9a9a", "thickness": 1.5, "ticks": {"size": 8, "color": "#9a9a9a"}},
          "encoding": {
            "y": {"field": "v", "type": "quantitative", "axis": null},
            "x": {"field": "zlo", "type": "quantitative", "axis": null},
            "x2": {"field": "zhi"}
          }
        },
        {
          "data": {"name": "obs"},
          "transform": [{"filter": "datum.kind == 'Rao' || datum.kind == 'Zw97' || datum.kind == 'PerO'"}],
          "mark": {"type": "point", "filled": false, "color": "#9a9a9a", "strokeWidth": 1.4, "size": 140},
          "encoding": {
            "x": {"field": "z", "type": "quantitative", "axis": null},
            "y": {"field": "v", "type": "quantitative", "axis": null},
            "shape": {"field": "kind", "type": "nominal", "legend": null,
              "scale": {"domain": ["Rao","Zw97","Zw05","PerF","PerO"], "range": ["triangle-up","circle","circle","square","square"]}}
          }
        },
        {
          "data": {"name": "obs"},
          "transform": [{"filter": "datum.kind == 'Zw05' || datum.kind == 'PerF'"}],
          "mark": {"type": "point", "filled": true, "color": "#9a9a9a", "opacity": 1, "size": 160},
          "encoding": {
            "x": {"field": "z", "type": "quantitative", "axis": null},
            "y": {"field": "v", "type": "quantitative", "axis": null},
            "shape": {"field": "kind", "type": "nominal", "legend": null}
          }
        },
        {
          "data": {"name": "symkey"},
          "transform": [{"filter": "datum.kind == 'Rao' || datum.kind == 'Zw97' || datum.kind == 'PerO'"}],
          "mark": {"type": "point", "filled": false, "color": "#9a9a9a", "strokeWidth": 1.2, "size": 130},
          "encoding": {
            "x": {"field": "z", "type": "quantitative", "axis": null},
            "y": {"field": "v", "type": "quantitative", "axis": null},
            "shape": {"field": "kind", "type": "nominal", "legend": null}
          }
        },
        {
          "data": {"name": "symkey"},
          "transform": [{"filter": "datum.kind == 'Zw05' || datum.kind == 'PerF'"}],
          "mark": {"type": "point", "filled": true, "color": "#9a9a9a", "opacity": 1, "size": 130},
          "encoding": {
            "x": {"field": "z", "type": "quantitative", "axis": null},
            "y": {"field": "v", "type": "quantitative", "axis": null},
            "shape": {"field": "kind", "type": "nominal", "legend": null}
          }
        }
      ]
    }
  ]
}
